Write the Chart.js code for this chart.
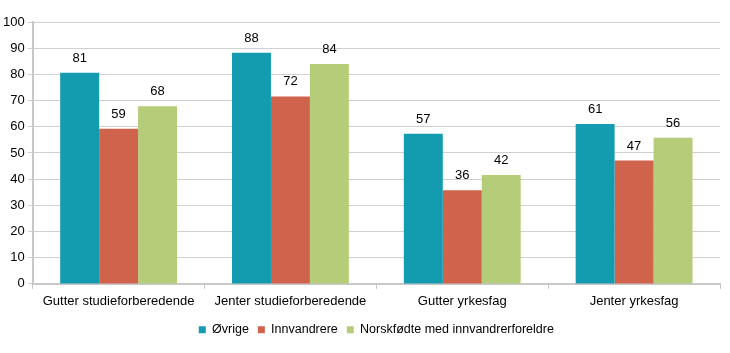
<!DOCTYPE html>
<html>
<head>
<meta charset="utf-8">
<script src="https://cdn.jsdelivr.net/npm/chart.js@4"></script>
<style>
  html, body { margin: 0; padding: 0; background: #fff; }
  #wrap { width: 730px; height: 353px; }
</style>
</head>
<body>
<div id="wrap"><canvas id="chart" width="730" height="353"></canvas></div>
<script>
const categories = ['Gutter studieforberedende', 'Jenter studieforberedende', 'Gutter yrkesfag', 'Jenter yrkesfag'];
const ovrige = [81, 88, 57, 61];
const innvandrere = [59, 72, 36, 47];
const norskfodte = [68, 84, 42, 56];
const ovrigeBars = [80.6, 88.3, 57.3, 61.1];
const innvandrereBars = [59.2, 71.6, 35.8, 47.1];
const norskfodteBars = [67.8, 84.0, 41.6, 55.8];

const FONT = '"Liberation Sans", Arial, sans-serif';

// value labels above bars
const valueLabels = {
    id: 'valueLabels',
    afterDatasetsDraw(chart) {
        const ctx = chart.ctx;
        ctx.save();
        ctx.font = '13px ' + FONT;
        ctx.fillStyle = '#000';
        ctx.textAlign = 'center';
        ctx.textBaseline = 'bottom';
        chart.data.datasets.forEach((ds, i) => {
            chart.getDatasetMeta(i).data.forEach((bar, j) => {
                ctx.fillText(ds.labels[j], bar.x, bar.y - 8);
            });
        });
        ctx.restore();
    }
};

const ctx = document.getElementById('chart').getContext('2d');
const myChart = new Chart(ctx, {
    type: 'bar',
    data: {
        labels: categories,
        datasets: [
            { label: 'Øvrige', data: ovrigeBars, labels: ovrige, backgroundColor: '#139cb0' },
            { label: 'Innvandrere', data: innvandrereBars, labels: innvandrere, backgroundColor: '#d0634b' },
            { label: 'Norskfødte med innvandrerforeldre', data: norskfodteBars, labels: norskfodte, backgroundColor: '#b5cc79' }
        ]
    },
    options: {
        responsive: false,
        animation: false,
        layout: { padding: { left: 0, right: 10, top: 22, bottom: 7 } },
        categoryPercentage: 0.68,
        barPercentage: 1,
        scales: {
            x: {
                grid: { display: true, drawOnChartArea: false, offset: true, color: '#c8c8c8', tickLength: 5 },
                border: { color: '#c8c8c8', width: 2 },
                ticks: { color: '#000', font: { size: 13, family: FONT }, padding: 5, maxRotation: 0 }
            },
            y: {
                min: 0, max: 100,
                grid: { color: '#d0d0d0', lineWidth: 1, tickLength: 5 },
                border: { color: '#c8c8c8', width: 2 },
                ticks: { stepSize: 10, color: '#000', font: { size: 13, family: FONT }, padding: 3 }
            }
        },
        plugins: {
            legend: {
                position: 'bottom',
                fullSize: false,
                labels: {
                    boxWidth: 7, boxHeight: 7, padding: 9,
                    color: '#000',
                    font: { size: 12.5, family: FONT }
                }
            },
            tooltip: { enabled: false }
        }
    },
    plugins: [valueLabels]
});
</script>
</body>
</html>
